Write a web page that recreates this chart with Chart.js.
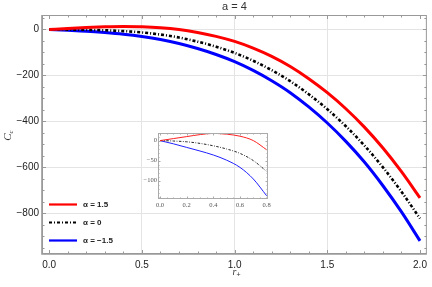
<!DOCTYPE html>
<html>
<head>
<meta charset="utf-8">
<script src="https://cdn.jsdelivr.net/npm/chart.js@4.4.1/dist/chart.umd.min.js"></script>
<style>
  html, body { margin: 0; padding: 0; background: #fff; }
  #wrap { position: relative; width: 432px; height: 287px; }
  #main { position: absolute; left: 0; top: 0; }
  #inset { position: absolute; left: 140px; top: 126px; }
</style>
</head>
<body>
<div id="wrap">
  <canvas id="main" width="432" height="287"></canvas>
  <canvas id="inset" width="134" height="86"></canvas>
</div>
<script>
// main panel data
const rPlus = [0, 0.1, 0.2, 0.3, 0.4, 0.5, 0.6, 0.7, 0.8, 0.9, 1.0,
               1.1, 1.2, 1.3, 1.4, 1.5, 1.6, 1.7, 1.8, 1.9, 2.0];
const cAlphaPos  = [0, 4.5, 8.5, 11.5, 13, 12, 8, 0, -13, -30, -52,
                    -81, -117, -161, -214, -275, -345, -425, -516, -619, -733];
const cAlphaZero = [0, -0.5, -1.5, -3.5, -7, -13, -22, -35, -53, -75, -102,
                    -136, -177, -225, -282, -347, -421, -505, -600, -706, -823];
const cAlphaNeg  = [0, -3.5, -7.5, -13.5, -21, -31, -44, -61, -83, -109, -140,
                    -178, -223, -275, -337, -407, -487, -577, -680, -794, -920];

// inset data
const rInset = [0, 0.1, 0.2, 0.3, 0.4, 0.5, 0.6, 0.7, 0.8];
const insetPos  = [0, 5, 10, 15, 18, 16, 11, 0, -23];
const insetZero = [0, -1, -3, -7, -13, -21, -32, -50, -77];
const insetNeg  = [0, -8, -17, -26, -36, -49, -67, -96, -138];

const seriesLabels = ['α = 1.5', 'α = 0', 'α = −1.5'];
const xTicksMain = [0, 0.5, 1, 1.5, 2];
const yTicksMain = [-800, -600, -400, -200, 0];
const xTicksInset = [0, 0.2, 0.4, 0.6, 0.8];
const yTicksInset = [-100, -50, 0];

function toPoints(xs, ys) {
    return xs.map((x, i) => ({ x: x, y: ys[i] }));
}

function fmtNum(v, digits) {
    const s = Math.abs(v).toFixed(digits);
    return v < 0 ? '\u2212' + s : s;
}

const dotDash = [3, 2, 1, 2];

// frame plus inward tick marks (Mathematica style)
const frameTicks = {
    id: 'frameTicks',
    afterDatasetsDraw(chart, args, o) {
        const { ctx, chartArea: a, scales: { x, y } } = chart;
        ctx.save();
        ctx.strokeStyle = o.color;
        ctx.lineWidth = 1;

        const nx = Math.round((o.xTo - o.xFrom) / o.xMinor);
        for (let i = 0; i <= nx; i++) {
            const v = o.xFrom + i * o.xMinor;
            const major = Math.abs(v / o.xMajor - Math.round(v / o.xMajor)) < 1e-6;
            const len = major ? o.major : o.minor;
            const px = Math.round(x.getPixelForValue(v)) + 0.5;
            ctx.beginPath();
            ctx.moveTo(px, a.bottom); ctx.lineTo(px, a.bottom - len);
            ctx.moveTo(px, a.top); ctx.lineTo(px, a.top + len);
            ctx.stroke();
        }
        const ny = Math.round((o.yTo - o.yFrom) / o.yMinor);
        for (let i = 0; i <= ny; i++) {
            const v = o.yFrom + i * o.yMinor;
            const major = Math.abs(v / o.yMajor - Math.round(v / o.yMajor)) < 1e-6;
            const len = major ? o.major : o.minor;
            const py = Math.round(y.getPixelForValue(v)) + 0.5;
            ctx.beginPath();
            ctx.moveTo(a.left, py); ctx.lineTo(a.left + len, py);
            ctx.moveTo(a.right, py); ctx.lineTo(a.right - len, py);
            ctx.stroke();
        }

        ctx.strokeRect(a.left + 0.5, a.top + 0.5, a.right - a.left - 1, a.bottom - a.top - 1);
        if (o.heavy) {
            ctx.lineWidth = 1.6;
            ctx.beginPath();
            ctx.moveTo(a.left, a.top); ctx.lineTo(a.left, a.bottom); ctx.lineTo(a.right, a.bottom);
            ctx.stroke();
        }
        ctx.restore();
    }
};

// title, axis labels and the legend of the main panel
const mainLabels = {
    id: 'mainLabels',
    afterDraw(chart) {
        const { ctx, chartArea: a } = chart;
        ctx.save();
        ctx.fillStyle = '#333';
        ctx.textBaseline = 'middle';

        ctx.font = '11px "Liberation Sans", Arial, sans-serif';
        ctx.textAlign = 'center';
        ctx.fillText('a = 4', (a.left + a.right) / 2, 7);

        // x title r_+
        const cx = (a.left + a.right) / 2 - 2;
        ctx.font = 'italic 10px "Liberation Serif", serif';
        ctx.textAlign = 'left';
        ctx.fillText('r', cx, 272);
        ctx.font = '7px "Liberation Sans", sans-serif';
        ctx.fillText('+', cx + 4, 275.5);

        // y title C_c
        ctx.save();
        ctx.translate(8, (a.top + a.bottom) / 2);
        ctx.rotate(-Math.PI / 2);
        ctx.font = 'italic 11px "Liberation Serif", serif';
        ctx.textAlign = 'right';
        ctx.fillText('C', 1, 0);
        ctx.font = 'italic 7px "Liberation Serif", serif';
        ctx.textAlign = 'left';
        ctx.fillText('c', 1, 3);
        ctx.restore();

        // legend
        const rows = [204.5, 222.5, 240.5];
        chart.data.datasets.forEach((ds, i) => {
            ctx.save();
            ctx.strokeStyle = ds.borderColor;
            ctx.lineWidth = i === 1 ? 2 : 2.2;
            ctx.setLineDash(ds.borderDash || []);
            ctx.beginPath();
            ctx.moveTo(49, rows[i]);
            ctx.lineTo(77, rows[i]);
            ctx.stroke();
            ctx.restore();
            ctx.fillStyle = '#222';
            ctx.font = 'bold 8px "Liberation Sans", Arial, sans-serif';
            ctx.textAlign = 'left';
            ctx.fillText(ds.label, 83, rows[i] + 0.5);
        });
        ctx.restore();
    }
};

new Chart(document.getElementById('main'), {
    type: 'line',
    data: {
        datasets: [
            {
                label: seriesLabels[0],
                data: toPoints(rPlus, cAlphaPos),
                borderColor: '#ff0000',
                borderWidth: 3
            },
            {
                label: seriesLabels[1],
                data: toPoints(rPlus, cAlphaZero),
                borderColor: '#000000',
                borderWidth: 2.6,
                borderDash: dotDash
            },
            {
                label: seriesLabels[2],
                data: toPoints(rPlus, cAlphaNeg),
                borderColor: '#0000ff',
                borderWidth: 3
            }
        ]
    },
    options: {
        responsive: false,
        animation: false,
        layout: { padding: { top: 15, right: 2, left: 0, bottom: 0 } },
        elements: {
            point: { radius: 0 },
            line: { cubicInterpolationMode: 'monotone', borderCapStyle: 'butt' }
        },
        scales: {
            x: {
                type: 'linear',
                min: -0.039,
                max: 2.037,
                afterFit(scale) { scale.height = 33; },
                afterBuildTicks(scale) { scale.ticks = xTicksMain.map(v => ({ value: v })); },
                border: { display: false },
                grid: {
                    drawTicks: false,
                    color: c => (c.tick && (c.tick.value === 0 || c.tick.value === 2)) ? 'rgba(0,0,0,0)' : '#e4e4e4'
                },
                ticks: {
                    padding: 5,
                    maxRotation: 0,
                    color: '#222',
                    font: { family: '"Liberation Sans", Arial, sans-serif', size: 10 },
                    callback: v => fmtNum(v, 1)
                }
            },
            y: {
                type: 'linear',
                min: -977,
                max: 63,
                afterFit(scale) { scale.width = 42; },
                afterBuildTicks(scale) { scale.ticks = yTicksMain.map(v => ({ value: v })); },
                border: { display: false },
                grid: { drawTicks: false, color: '#e4e4e4' },
                ticks: {
                    padding: 3,
                    color: '#222',
                    font: { family: '"Liberation Sans", Arial, sans-serif', size: 10 },
                    callback: v => fmtNum(v, 0)
                }
            }
        },
        plugins: {
            legend: { display: false },
            tooltip: { enabled: false },
            frameTicks: {
                color: '#999', major: 4, minor: 2.5, heavy: true,
                xFrom: 0, xTo: 2, xMinor: 0.1, xMajor: 0.5,
                yFrom: -950, yTo: 50, yMinor: 50, yMajor: 200
            }
        }
    },
    plugins: [frameTicks, mainLabels]
});

new Chart(document.getElementById('inset'), {
    type: 'line',
    data: {
        datasets: [
            { data: toPoints(rInset, insetPos), borderColor: '#ff2020', borderWidth: 1 },
            { data: toPoints(rInset, insetZero), borderColor: '#222', borderWidth: 1, borderDash: [2.5, 1.5, 0.8, 1.5] },
            { data: toPoints(rInset, insetNeg), borderColor: '#2020ff', borderWidth: 1 }
        ]
    },
    options: {
        responsive: false,
        animation: false,
        layout: { padding: { top: 7, right: 6, left: 0, bottom: 0 } },
        elements: {
            point: { radius: 0 },
            line: { cubicInterpolationMode: 'monotone' }
        },
        scales: {
            x: {
                type: 'linear',
                min: -0.015,
                max: 0.81,
                afterFit(scale) { scale.height = 13; },
                afterBuildTicks(scale) { scale.ticks = xTicksInset.map(v => ({ value: v })); },
                border: { display: false },
                grid: { display: false, drawTicks: false },
                ticks: {
                    padding: 2,
                    maxRotation: 0,
                    color: '#555',
                    font: { family: '"Liberation Serif", serif', size: 6.5 },
                    callback: v => v.toFixed(1)
                }
            },
            y: {
                type: 'linear',
                min: -146,
                max: 19,
                afterFit(scale) { scale.width = 18; },
                afterBuildTicks(scale) { scale.ticks = yTicksInset.map(v => ({ value: v })); },
                border: { display: false },
                grid: { display: false, drawTicks: false },
                ticks: {
                    padding: 1,
                    color: '#555',
                    font: { family: '"Liberation Serif", serif', size: 6.5 },
                    callback: v => fmtNum(v, 0)
                }
            }
        },
        plugins: {
            legend: { display: false },
            tooltip: { enabled: false },
            frameTicks: {
                color: '#aaa', major: 2.5, minor: 1.5, heavy: false,
                xFrom: 0, xTo: 0.8, xMinor: 0.05, xMajor: 0.2,
                yFrom: -140, yTo: 10, yMinor: 10, yMajor: 50
            }
        }
    },
    plugins: [frameTicks]
});
</script>
</body>
</html>
